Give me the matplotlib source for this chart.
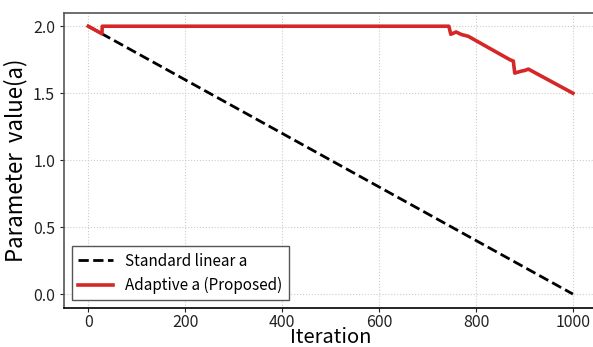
import numpy as np
import matplotlib
matplotlib.use('Agg')
import matplotlib.pyplot as plt

plt.rcParams['font.family'] = ['Noto Sans CJK KR', 'DejaVu Sans']

# standard linear a : 2 -> 0
std_iter = [0, 1000]
std_a = [2.0, 0.0]

# adaptive a
ada_iter = [0, 28, 29, 744, 748, 759, 770, 784, 839, 870, 877,
            880, 894, 901, 908, 1000]
ada_a = [2.0, 1.944, 2.0, 2.0, 1.94, 1.957, 1.938, 1.925, 1.813, 1.75, 1.74,
         1.65, 1.665, 1.67, 1.68, 1.50]

fig = plt.figure(figsize=(5.93, 3.47), dpi=100)
ax = fig.add_axes([0.108, 0.112, 0.899, 0.851])

ax.plot(std_iter, std_a, 'k--', lw=2, label='Standard linear a')
ax.plot(ada_iter, ada_a, color='#d62728', lw=2.6, label='Adaptive a (Proposed)')

ax.set_xlim(-50, 1050)
ax.set_ylim(-0.105, 2.1)
ax.set_xticks([0, 200, 400, 600, 800, 1000])
ax.set_yticks([0.0, 0.5, 1.0, 1.5, 2.0])
ax.tick_params(labelsize=11.5, length=3, colors='#222222')
ax.tick_params(axis='x', pad=1)
ax.grid(True, ls=':', color='#cccccc', lw=0.8)

for s in ['top', 'right', 'left']:
    ax.spines[s].set_color('#555555')
    ax.spines[s].set_linewidth(1.2)
ax.spines['bottom'].set_color('black')
ax.spines['bottom'].set_linewidth(1.2)

ax.set_xlabel('Iteration', fontsize=14.5, labelpad=-3)
ax.set_ylabel('Parameter  value(a)', fontsize=16, labelpad=4)

leg = ax.legend(loc='lower left', fontsize=11, fancybox=False, framealpha=1,
                edgecolor='#555555', borderpad=0.4, handlelength=2.3)

fig.savefig('out.png', dpi=100)
